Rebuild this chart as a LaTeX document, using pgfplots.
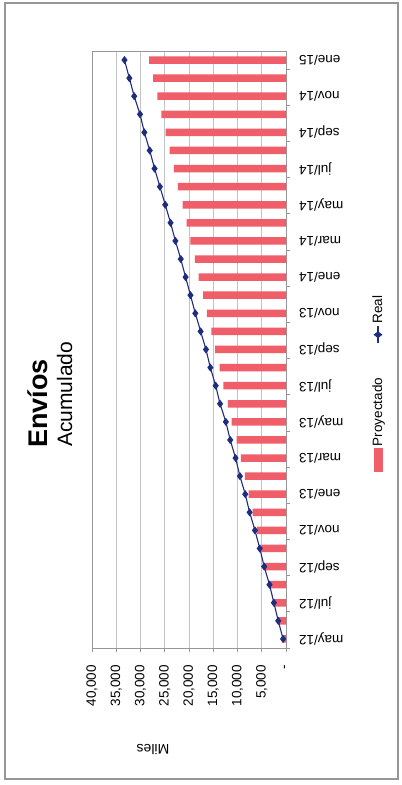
\documentclass[border=0pt]{standalone}
\usepackage{fontspec}
\setmainfont{Liberation Sans}
\usepackage{pgfplots}
\usepackage{pgfplotstable}
\pgfplotsset{compat=1.18}

\definecolor{proy}{RGB}{240,94,106}
\definecolor{real}{RGB}{30,45,125}
\definecolor{gridc}{RGB}{195,195,195}
\definecolor{axisc}{RGB}{150,150,150}

% monthly cumulative shipments (units), may/12 = 0 ... ene/15 = 32
\pgfplotstableread{
idx proy  real
0   800   600
1   1700  1600
2   2500  2500
3   3400  3400
4   4300  4500
5   5100  5400
6   6000  6400
7   6900  7500
8   7700  8400
9   8500  9500
10  9300  10400
11  10200 11500
12  11200 12400
13  12000 13600
14  12900 14500
15  13700 15600
16  14600 16500
17  15400 17600
18  16300 18700
19  17100 19700
20  18000 20700
21  18800 21700
22  19700 22800
23  20500 23800
24  21300 24900
25  22300 26000
26  23100 27100
27  24000 28100
28  24800 29200
29  25700 30100
30  26500 31300
31  27400 32300
32  28200 33300
}\envios

\tikzset{
  realstyle/.style={real, line width=1.1bp, mark=diamond*, mark size=3.2bp, mark options={fill=real}},
}

\begin{document}
\begin{tikzpicture}[x=1bp,y=1bp]
\draw[axisc, line width=1.2bp] (5,6) rectangle (398,782);

\begin{axis}[
  at={(92bp,137bp)}, anchor=south west,
  scale only axis, width=194bp, height=597bp,
  x dir=reverse,
  xmin=0, xmax=40000,
  ymin=-0.5, ymax=32.5,
  scaled x ticks=false,
  axis line style={axisc, line width=0.7bp},
  tick align=outside,
  major tick length=4bp,
  tick style={axisc, line width=0.7bp},
  xmajorgrids,
  major grid style={gridc, line width=0.6bp},
  xtick={0,5000,...,40000},
  xticklabels={{-\hspace{9bp}},{5,000},{10,000},{15,000},{20,000},{25,000},{30,000},{35,000},{40,000}},
  xtick pos=bottom,
  xticklabel style={rotate=90, anchor=east, inner sep=0pt, font=\fontsize{13.5bp}{15bp}\selectfont},
  xticklabel shift=13bp,
  ytick={0,2,...,32},
  yticklabels={may/12,jul/12,sep/12,nov/12,ene/13,mar/13,may/13,jul/13,sep/13,nov/13,ene/14,mar/14,may/14,jul/14,sep/14,nov/14,ene/15},
  ytick pos=right,
  yticklabel pos=right,
  ytick style={draw=none},
  yticklabel style={rotate=180, anchor=east, inner sep=0pt, font=\fontsize{13.5bp}{15bp}\selectfont},
  yticklabel shift=9bp,
  extra y ticks={-0.5,1.5,...,31.5},
  extra y tick labels={},
  extra y tick style={ytick style={draw=axisc}},
  legend to name=envleg,
  legend columns=2,
  legend style={draw=none, fill=none, inner sep=0pt, font=\fontsize{13.5bp}{15bp}\selectfont,
    /tikz/every even column/.append style={column sep=32bp}},
]
\addplot[xbar, bar width=7.5bp, fill=proy, draw=none,
  legend image code/.code={\fill[proy] (0bp,-4.5bp) rectangle (24bp,4.5bp);}]
  table[x=proy, y=idx] {\envios};
\addlegendentry{Proyectado}
\addplot[realstyle,
  legend image code/.code={\draw[realstyle, mark size=3.6bp, mark repeat=2, mark phase=2] plot coordinates {(0bp,0bp) (8.5bp,0bp) (17bp,0bp)};}]
  table[x=real, y=idx] {\envios};
\addlegendentry{Real}
\end{axis}

% legend, turned with the rest of the chart
\node[rotate=90, inner sep=0pt] at (378,402) {\pgfplotslegendfromname{envleg}};

\node[rotate=90, anchor=base west, inner sep=0pt, font=\bfseries\fontsize{27bp}{30bp}\selectfont] at (47,337) {Envíos};
\node[rotate=90, anchor=base west, inner sep=0pt, font=\fontsize{21bp}{24bp}\selectfont] at (72,338) {Acumulado};
\node[rotate=180, inner sep=0pt, font=\fontsize{14bp}{16bp}\selectfont] at (153,35) {Miles};

\pgfresetboundingbox
\path[use as bounding box] (0,0) rectangle (401,785);
\end{tikzpicture}
\end{document}
